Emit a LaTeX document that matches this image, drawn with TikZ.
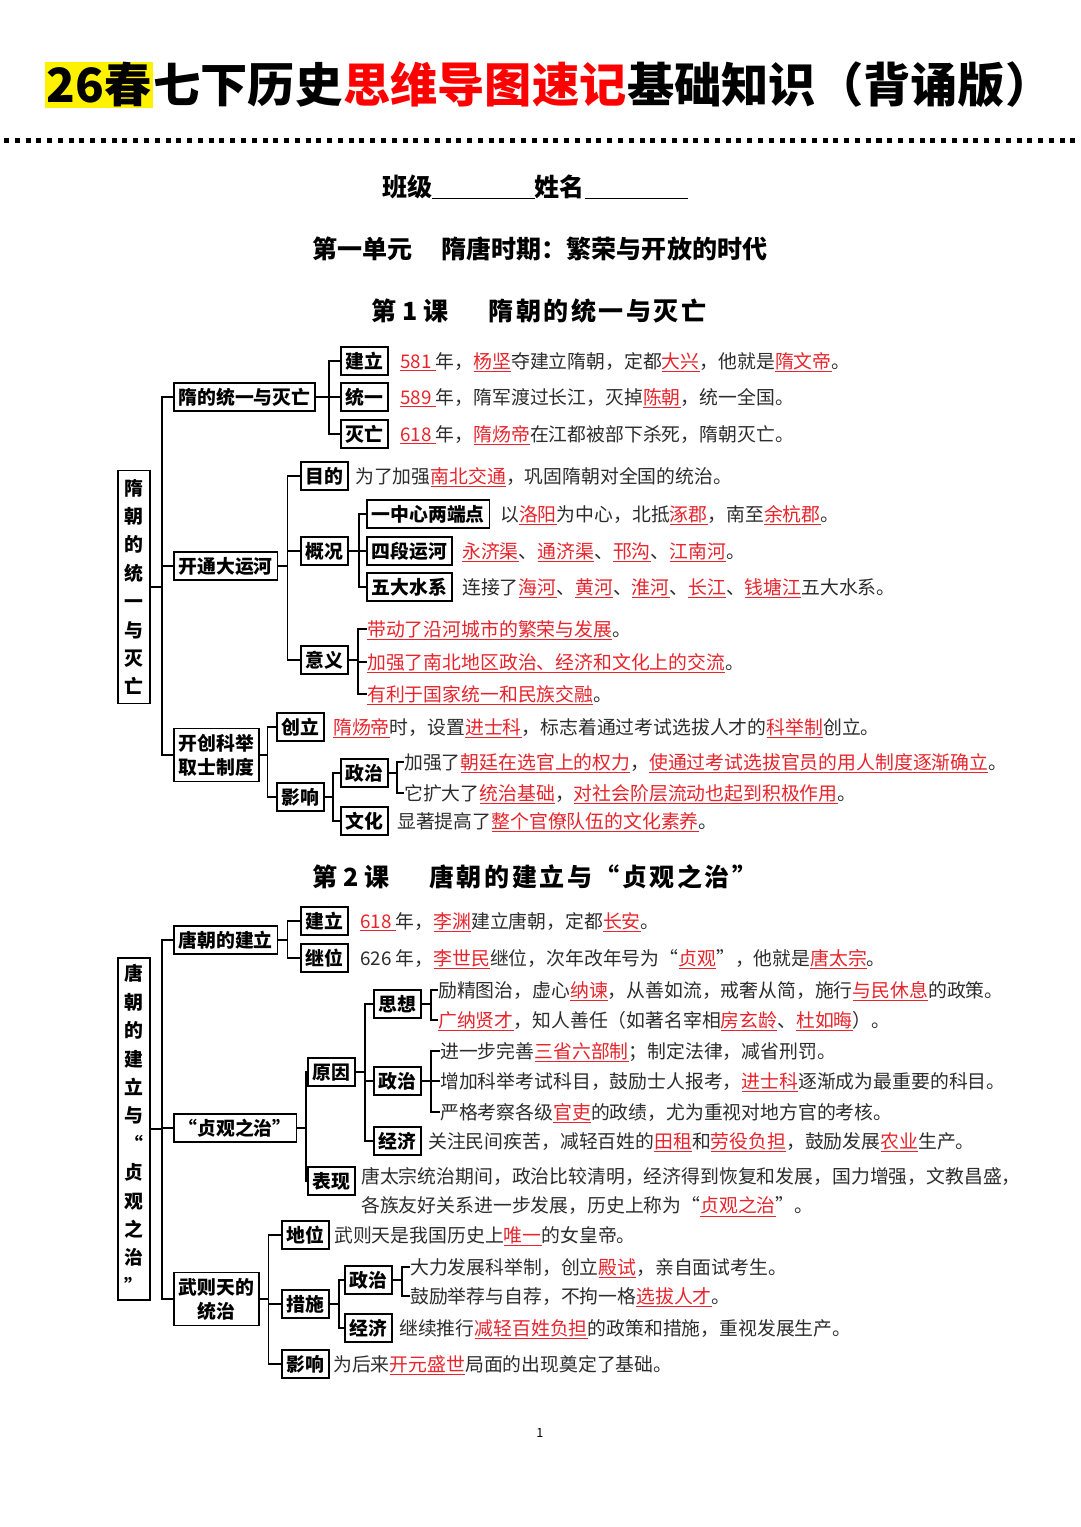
\documentclass[tikz,border=0pt]{standalone}
\usepackage{fontspec}
\setmainfont{Noto Sans CJK SC}
\usepackage{xcolor}
\usetikzlibrary{positioning}
\definecolor{keyred}{RGB}{232,36,44}
\definecolor{titlered}{RGB}{255,0,0}
\definecolor{txtgray}{RGB}{45,45,45}
\newcommand{\key}[1]{\textcolor{keyred}{\underline{#1}}}
\newcommand{\bodyfs}{\fontsize{13.4}{20.6}\selectfont}
\newcommand{\headfs}{\fontsize{17.8}{21}\selectfont\bfseries}
\tikzset{base/.style={draw,line width=1.2pt,anchor=west,inner xsep=3.4pt,font=\bodyfs\bfseries},
  box/.style={base,inner ysep=0pt,minimum height=0.7cm,text height=11.6pt,text depth=1.6pt},
  box2/.style={base,align=center,inner ysep=4pt,inner xsep=3.4pt,font=\fontsize{13.4}{17}\selectfont\bfseries},
  root/.style={draw,line width=1.2pt,align=center,minimum width=0.8cm,inner sep=0pt,font=\fontsize{13.4}{20.2}\selectfont\bfseries},
  txt/.style={anchor=west,inner sep=0pt,text=txtgray,font=\bodyfs,text height=11.6pt,text depth=1.6pt},
  txt2/.style={anchor=west,inner sep=0pt,text=txtgray,font=\bodyfs,align=left},
  head/.style={inner sep=0pt,font=\headfs},
  title/.style={inner sep=0pt,font=\fontsize{33.6}{36}\selectfont\bfseries},
  link/.style={line width=1.2pt}}

\begin{document}
\begin{tikzpicture}[x=0.025cm,y=-0.025cm]
\useasboundingbox (0,0) rectangle (1080,1527);
\fill[white] (0,0) rectangle (1080,1527);
% title
\node[title,fill=yellow,inner xsep=1pt,minimum height=1.15cm,anchor=west] (t1) at (45,85) {26春};
\node[title,anchor=base west] (t2) at (t1.base east) {七下历史};
\node[title,anchor=base west,text=titlered] (t3) at (t2.base east) {思维导图速记};
\node[title,anchor=base west] (t4) at (t3.base east) {基础知识（背诵版）};
\draw[line width=3.56pt,dash pattern=on 3.56pt off 4.1pt] (4,140) -- (1080,140);
\node[head] (cls) at (535,187) {班级\underline{\hspace{2.55cm}}姓名\underline{\hspace{2.575cm}}};
\node[head] (unit) at (540,249) {第一单元\hspace{1.15em}隋唐时期：繁荣与开放的时代};
\node[head] (les1) at (539,311) {第 1 课\hspace{1.6em}{\addfontfeatures{LetterSpace=10}隋朝的统一与灭亡}};
\node[head] (les2) at (535,877) {第 2 课\hspace{1.6em}{\addfontfeatures{LetterSpace=10}唐朝的建立与“贞观之治”}};

% lesson 1
\node[root,minimum height=5.83cm] (r1) at (134,587) {隋\\朝\\的\\统\\一\\与\\灭\\亡};
\node[box] (sui) at (173,397) {隋的统一与灭亡};
\node[box] (canal) at (173,566) {开通大运河};
\node[box2] (keju) at (173,755) {开创科举\\取士制度};
\foreach \c in {sui,canal,keju} \draw[link] (r1.east) -- ++(11,0) |- (\c.west);

\node[box] (jl1) at (340,361) {建立};
\node[box] (ty1) at (340,397) {统一};
\node[box] (mw1) at (340,434) {灭亡};
\foreach \c in {jl1,ty1,mw1} \draw[link] (sui.east) -- ++(13,0) |- (\c.west);
\node[txt] (jl1t) at (400,361) {\key{581\ }年，\key{杨坚}夺建立隋朝，定都\key{大兴}，他就是\key{隋文帝}。};
\node[txt] (ty1t) at (400,397) {\key{589\ }年，隋军渡过长江，灭掉\key{陈朝}，统一全国。};
\node[txt] (mw1t) at (400,434) {\key{618\ }年，\key{隋炀帝}在江都被部下杀死，隋朝灭亡。};

\node[box] (md) at (300,476) {目的};
\node[box] (gk) at (300,551) {概况};
\node[box] (yy) at (300,660) {意义};
\foreach \c in {md,gk,yy} \draw[link] (canal.east) -- ++(9,0) |- (\c.west);
\node[txt] (mdt) at (355,476) {为了加强\key{南北交通}，巩固隋朝对全国的统治。};
\node[box] (zx) at (366,514) {一中心两端点};
\node[box] (sd) at (366,551) {四段运河};
\node[box] (wd) at (366,587) {五大水系};
\foreach \c in {zx,sd,wd} \draw[link] (gk.east) -- ++(10,0) |- (\c.west);
\node[txt] (zxt) at (500,514) {以\key{洛阳}为中心，北抵\key{涿郡}，南至\key{余杭郡}。};
\node[txt] (sdt) at (462,551) {\key{永济渠}、\key{通济渠}、\key{邗沟}、\key{江南河}。};
\node[txt] (wdt) at (462,587) {连接了\key{海河}、\key{黄河}、\key{淮河}、\key{长江}、\key{钱塘江}五大水系。};
\node[txt] (yy1) at (367,629) {\key{带动了沿河城市的繁荣与发展}。};
\node[txt] (yy2) at (367,662) {\key{加强了南北地区政治、经济和文化上的交流}。};
\node[txt] (yy3) at (367,694) {\key{有利于国家统一和民族交融}。};
\foreach \c in {yy1,yy2,yy3} \draw[link] (yy.east) -- ++(9,0) |- (\c.west);

\node[box] (cl) at (276,727) {创立};
\node[box] (yx1) at (276,797) {影响};
\foreach \c in {cl,yx1} \draw[link] (keju.east) -- ++(8,0) |- (\c.west);
\node[txt] (clt) at (333,727) {\key{隋炀帝}时，设置\key{进士科}，标志着通过考试选拔人才的\key{科举制}创立。};
\node[box] (zz1) at (340,773) {政治};
\node[box] (wh1) at (340,821) {文化};
\foreach \c in {zz1,wh1} \draw[link] (yx1.east) -- ++(8,0) |- (\c.west);
\node[txt] (zz1a) at (404,762) {加强了\key{朝廷在选官上的权力}，\key{使通过考试选拔官员的用人制度逐渐确立}。};
\node[txt] (zz1b) at (404,793) {它扩大了\key{统治基础}，\key{对社会阶层流动也起到积极作用}。};
\foreach \c in {zz1a,zz1b} \draw[link] (zz1.east) -- ++(8,0) |- (\c.west);
\node[txt] (wh1t) at (397,821) {显著提高了\key{整个官僚队伍的文化素养}。};

% lesson 2
\node[root,minimum height=8.55cm] (r2) at (134,1129) {唐\\朝\\的\\建\\立\\与\\“\\贞\\观\\之\\治\\”};
\node[box] (tang) at (173,940) {唐朝的建立};
\node[box] (zg) at (173,1128) {“贞观之治”};
\node[box2] (wzt) at (173,1299) {武则天的\\统治};
\foreach \c in {tang,zg,wzt} \draw[link] (r2.east) -- ++(11,0) |- (\c.west);

\node[box] (jl2) at (300,921) {建立};
\node[box] (jw2) at (300,958) {继位};
\foreach \c in {jl2,jw2} \draw[link] (tang.east) -- ++(9,0) |- (\c.west);
\node[txt] (jl2t) at (360,921) {\key{618\ }年，\key{李渊}建立唐朝，定都\key{长安}。};
\node[txt] (jw2t) at (360,958) {626 年，\key{李世民}继位，次年改年号为“\key{贞观}”，他就是\key{唐太宗}。};

\node[box] (yyn) at (307,1072) {原因};
\node[box] (bx) at (307,1181) {表现};
\foreach \c in {yyn,bx} \draw[link] (zg.east) -- ++(9,0) |- (\c.west);
\node[box] (sx) at (373,1004) {思想};
\node[box] (zz2) at (373,1081) {政治};
\node[box] (jj2) at (373,1141) {经济};
\foreach \c in {sx,zz2,jj2} \draw[link] (yyn.east) -- ++(9,0) |- (\c.west);
\node[txt] (sxa) at (438,990) {励精图治，虚心\key{纳谏}，从善如流，戒奢从简，施行\key{与民休息}的政策。};
\node[txt] (sxb) at (438,1020) {\key{广纳贤才}，知人善任（如著名宰相\key{房玄龄}、\key{杜如晦}）。};
\foreach \c in {sxa,sxb} \draw[link] (sx.east) -- ++(9,0) |- (\c.west);
\node[txt] (zz2a) at (440,1051) {进一步完善\key{三省六部制}；制定法律，减省刑罚。};
\node[txt] (zz2b) at (440,1081) {增加科举考试科目，鼓励士人报考，\key{进士科}逐渐成为最重要的科目。};
\node[txt] (zz2c) at (440,1112) {严格考察各级\key{官吏}的政绩，尤为重视对地方官的考核。};
\foreach \c in {zz2a,zz2b,zz2c} \draw[link] (zz2.east) -- ++(9,0) |- (\c.west);
\node[txt] (jj2t) at (428,1141) {关注民间疾苦，减轻百姓的\key{田租}和\key{劳役负担}，鼓励发展\key{农业}生产。};
\node[txt2] (bxt) at (361,1192) {唐太宗统治期间，政治比较清明，经济得到恢复和发展，国力增强，文教昌盛，\\各族友好关系进一步发展，历史上称为“\key{贞观之治}”。};

\node[box] (dw) at (281,1235) {地位};
\node[box] (cs) at (281,1304) {措施};
\node[box] (yx2) at (281,1364) {影响};
\foreach \c in {dw,cs,yx2} \draw[link] (wzt.east) -- ++(9,0) |- (\c.west);
\node[txt] (dwt) at (334,1235) {武则天是我国历史上\key{唯一}的女皇帝。};
\node[box] (zz3) at (344,1280) {政治};
\node[box] (jj3) at (344,1328) {经济};
\foreach \c in {zz3,jj3} \draw[link] (cs.east) -- ++(9,0) |- (\c.west);
\node[txt] (zz3a) at (410,1267) {大力发展科举制，创立\key{殿试}，亲自面试考生。};
\node[txt] (zz3b) at (410,1296) {鼓励举荐与自荐，不拘一格\key{选拔人才}。};
\foreach \c in {zz3a,zz3b} \draw[link] (zz3.east) -- ++(9,0) |- (\c.west);
\node[txt] (jj3t) at (399,1328) {继续推行\key{减轻百姓负担}的政策和措施，重视发展生产。};
\node[txt] (yx2t) at (333,1364) {为后来\key{开元盛世}局面的出现奠定了基础。};

\node[inner sep=0pt,font=\fontsize{9}{10}\selectfont] (pg) at (540,1433) {1};
\end{tikzpicture}
\end{document}
